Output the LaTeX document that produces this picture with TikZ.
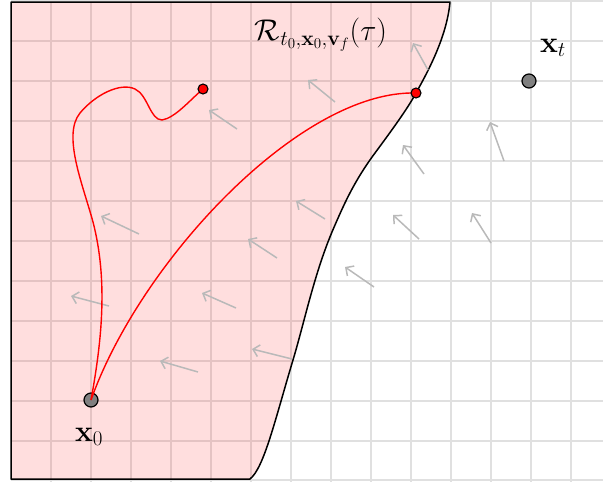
\documentclass[tikz,border=0pt]{standalone}
\usepackage{fix-cm}
\usetikzlibrary{arrows.meta}
\definecolor{gridgray}{RGB}{224,224,224}
\definecolor{flowgray}{RGB}{185,185,185}
\definecolor{dotgray}{RGB}{128,128,128}
\begin{document}
\begin{tikzpicture}[x=1pt,y=-1pt,
  gridline/.style={draw=gridgray,line width=1.5pt},
  boundary/.style={draw=black,line width=1.5pt},
  traj/.style={draw=red,line width=1.4pt},
  flow/.style={draw=flowgray,line width=1.5pt,-{Straight Barb[length=6pt,width=12pt]}},
  statedot/.style={circle,draw=black,line width=1.2pt,fill=dotgray,minimum size=14pt,inner sep=0pt},
  enddot/.style={circle,draw=black,line width=1.1pt,fill=red,minimum size=10pt,inner sep=0pt},
  lab/.style={inner sep=0pt,font=\fontsize{30}{34}\selectfont}]
\useasboundingbox (0,0) rectangle (603,482);
% grid
\foreach \x in {51,91,...,571} \draw[gridline] (\x,0) -- (\x,482);
\foreach \y in {1,41,...,441} \draw[gridline] (11,\y) -- (603,\y);
\draw[gridline] (11,480) -- (603,480);
% reachable region
\def\regionpath{(11,2) -- (11,479) -- (250,479)
  .. controls (264,468) and (275,420) .. (293,360)
  .. controls (305,320) and (315,270) .. (335,225)
  .. controls (345,202) and (355,180) .. (375,153)
  .. controls (392,130) and (408,108) .. (416,93)
  .. controls (430,68) and (447,35) .. (450,2) -- cycle}
\fill[red,opacity=0.13] \regionpath;
\draw[boundary,line join=round] \regionpath;
% flow field
\draw[flow] (335,102) -- (308,80);
\draw[flow] (428,70) -- (413,43);
\draw[flow] (237,129) -- (209,110);
\draw[flow] (504,161) -- (490,122);
\draw[flow] (424,174) -- (403,145);
\draw[flow] (325,219) -- (296,201);
\draw[flow] (419,239) -- (393,215);
\draw[flow] (491,243) -- (472,213);
\draw[flow] (374,287) -- (345,267);
\draw[flow] (277,258) -- (248,239);
\draw[flow] (292,359) -- (252,349);
\draw[flow] (139,234) -- (101,216);
\draw[flow] (109,306) -- (71,296);
\draw[flow] (236,308) -- (202,293);
\draw[flow] (198,372) -- (160,361);
% states
\node[statedot] (x0) at (91,400) {};
\node[statedot] (xt) at (529,81) {};
\coordinate (p1) at (203,89);
\coordinate (p2) at (416,93);
% trajectories
\draw[traj] (x0.center) .. controls (140,262) and (300,90) .. (p2);
\draw[traj] (x0.center) .. controls (102,340) and (108,280) .. (93,222)
  .. controls (83,185) and (62,135) .. (80,113)
  .. controls (95,95) and (120,82) .. (135,89)
  .. controls (148,95) and (150,120) .. (162,120)
  .. controls (175,118) and (190,100) .. (p1);
\node[enddot] (e1) at (p1) {};
\node[enddot] (e2) at (p2) {};
% labels
\node[lab] (lx0) at (89,437) {$\mathbf{x}_0$};
\node[lab] (lxt) at (553,48) {$\mathbf{x}_t$};
\node[lab] (lR) at (321,35) {$\mathcal{R}_{t_0,\mathbf{x}_0,\mathbf{v}_f}(\tau)$};
\end{tikzpicture}
\end{document}
